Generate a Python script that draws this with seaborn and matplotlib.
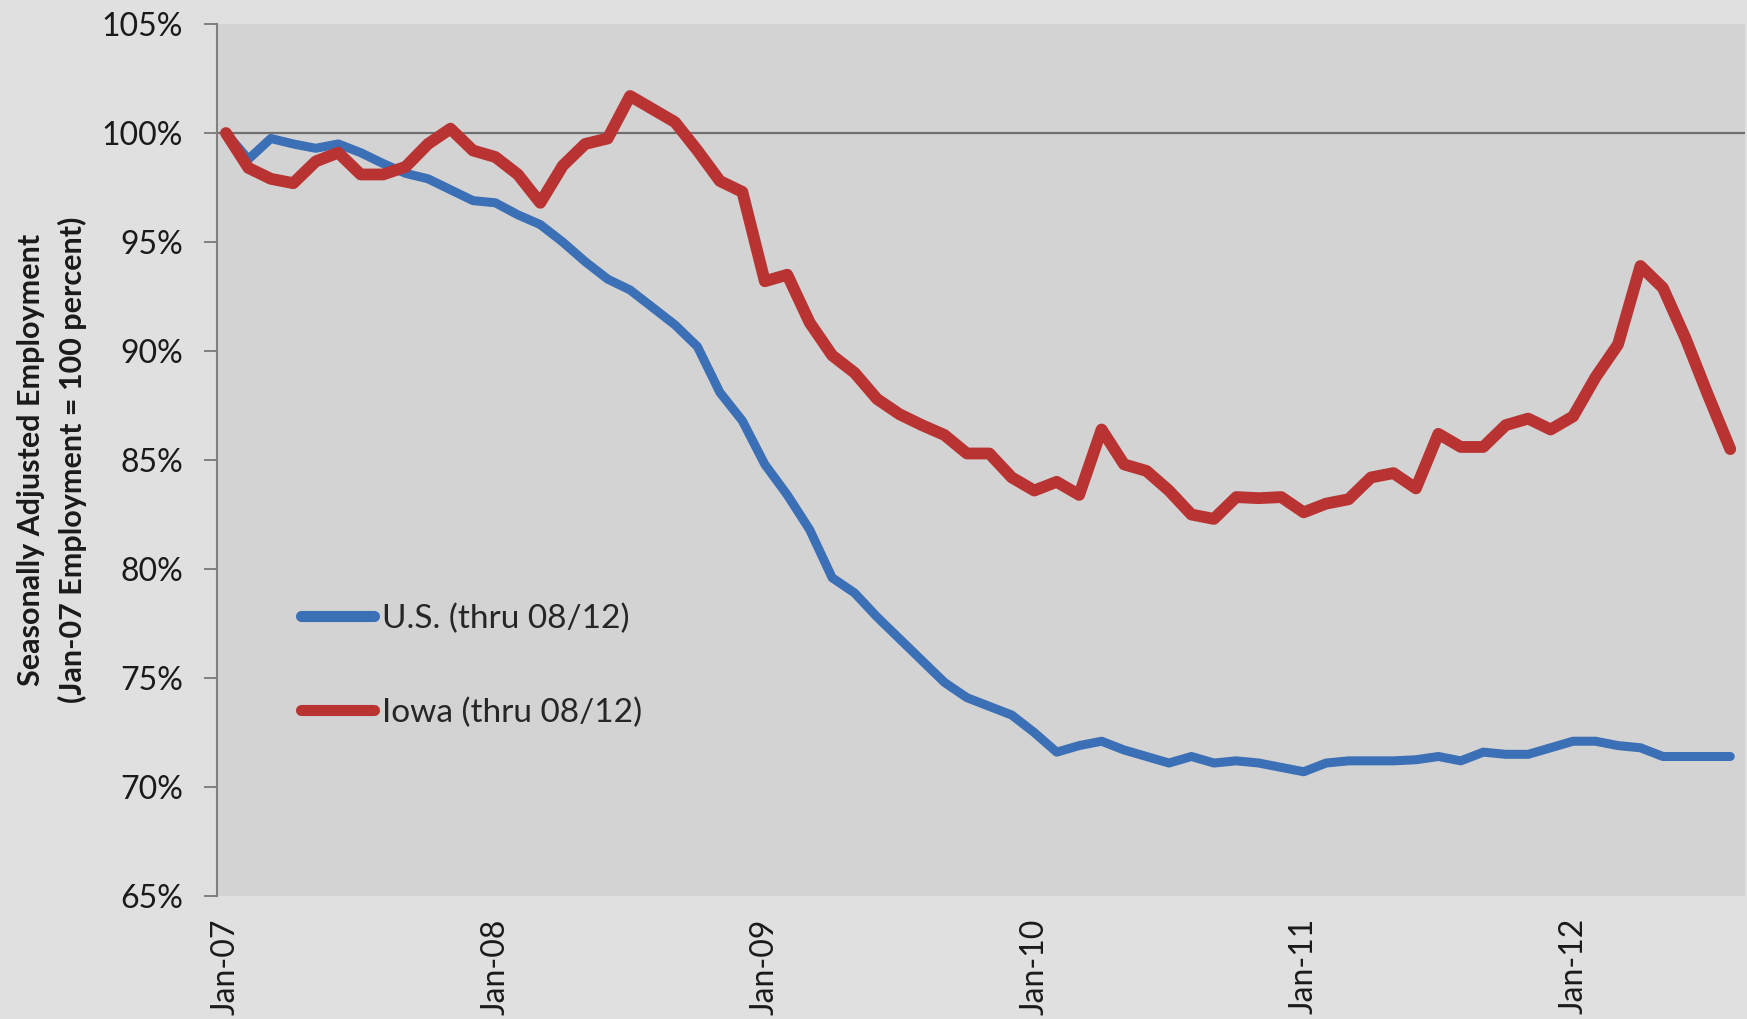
import numpy as np
import pandas as pd
import matplotlib.pyplot as plt
import seaborn as sns
from matplotlib.ticker import FuncFormatter

# monthly employment index, Jan-07 = 100, Jan-07 .. Aug-12
us_values = [100.0, 98.8, 99.75, 99.5, 99.3, 99.5, 99.1, 98.6, 98.15, 97.9,
             97.4, 96.9, 96.8, 96.25, 95.8, 95.0, 94.1, 93.3, 92.8, 92.0,
             91.2, 90.2, 88.1, 86.8, 84.8, 83.4, 81.8, 79.6, 78.9, 77.8,
             76.8, 75.8, 74.8, 74.1, 73.7, 73.3, 72.5, 71.6, 71.9, 72.1,
             71.7, 71.4, 71.1, 71.4, 71.1, 71.2, 71.1, 70.9, 70.7, 71.1,
             71.2, 71.2, 71.2, 71.25, 71.4, 71.2, 71.6, 71.5, 71.5, 71.8,
             72.1, 72.1, 71.9, 71.8, 71.4, 71.4, 71.4, 71.4]
iowa_values = [100.0, 98.4, 97.9, 97.7, 98.7, 99.1, 98.1, 98.1, 98.45, 99.5,
               100.2, 99.2, 98.9, 98.1, 96.8, 98.5, 99.5, 99.75, 101.7, 101.1,
               100.5, 99.2, 97.8, 97.3, 93.2, 93.5, 91.3, 89.8, 89.0, 87.8,
               87.1, 86.6, 86.15, 85.3, 85.3, 84.2, 83.6, 84.0, 83.4, 86.4,
               84.8, 84.5, 83.6, 82.5, 82.3, 83.3, 83.25, 83.3, 82.6, 83.0,
               83.2, 84.2, 84.4, 83.7, 86.2, 85.6, 85.6, 86.6, 86.9, 86.4,
               87.0, 88.8, 90.3, 93.9, 92.9, 90.6, 88.0, 85.5]
series_labels = ['U.S. (thru 08/12)', 'Iowa (thru 08/12)']
x_tick_labels = ['Jan-07', 'Jan-08', 'Jan-09', 'Jan-10', 'Jan-11', 'Jan-12']
y_ticks = [65, 70, 75, 80, 85, 90, 95, 100, 105]

months = np.arange(len(us_values))
df = pd.DataFrame({'month': months, 'us': us_values, 'iowa': iowa_values})

sns.set_style('white')
plt.rcParams['font.family'] = ['Lato', 'DejaVu Sans']

fig = plt.figure(figsize=(17.47, 10.19), dpi=100, facecolor='#e0e0e0')
ax = fig.add_axes([0.1242, 0.1207, 0.8747, 0.8557])
ax.set_facecolor('#d3d3d3')

# reference line at 100%
ax.axhline(100, color='#6f6f6f', lw=1.6, zorder=1)

blue = '#3b6fb6'
red = '#b93333'
sns.lineplot(data=df, x='month', y='us', ax=ax, color=blue, lw=6.5,
             label=series_labels[0], solid_joinstyle='round', solid_capstyle='round', zorder=3)
sns.lineplot(data=df, x='month', y='iowa', ax=ax, color=red, lw=8.5,
             label=series_labels[1], solid_joinstyle='round', solid_capstyle='round', zorder=4)

ax.set_xlim(-0.4, 67.66)
ax.set_ylim(65, 105)
ax.set_yticks(y_ticks)
ax.yaxis.set_major_formatter(FuncFormatter(lambda v, p: f'{v:.0f}%'))
ax.set_xticks(months[::12])
ax.set_xticklabels(x_tick_labels, rotation=90)
ax.tick_params(axis='y', length=9.4, width=1.4, color='#808080', labelsize=23,
               pad=15, labelcolor='#1a1a1a', left=True)
ax.tick_params(axis='x', length=0, labelsize=23, pad=16, labelcolor='#1a1a1a')

for side in ['top', 'right', 'bottom']:
    ax.spines[side].set_visible(False)
ax.spines['left'].set_color('#808080')
ax.spines['left'].set_linewidth(1.5)

ax.set_xlabel('')
ax.set_ylabel('Seasonally Adjusted Employment\n(Jan-07 Employment = 100 percent)',
              fontsize=22, fontweight='bold', color='#1a1a1a', linespacing=1.5,
              va='center', ha='center')
ax.yaxis.set_label_coords(-0.108, 0.5)

leg = ax.legend(loc='center left', bbox_to_anchor=(0.055, 0.264), frameon=False,
                fontsize=24, handlelength=2.2, handletextpad=0.24, labelspacing=1.9,
                borderaxespad=0, borderpad=0)
for line in leg.get_lines():
    line.set_linewidth(8)
    line.set_solid_capstyle('round')

fig.savefig('out.png', dpi=100, facecolor=fig.get_facecolor())
